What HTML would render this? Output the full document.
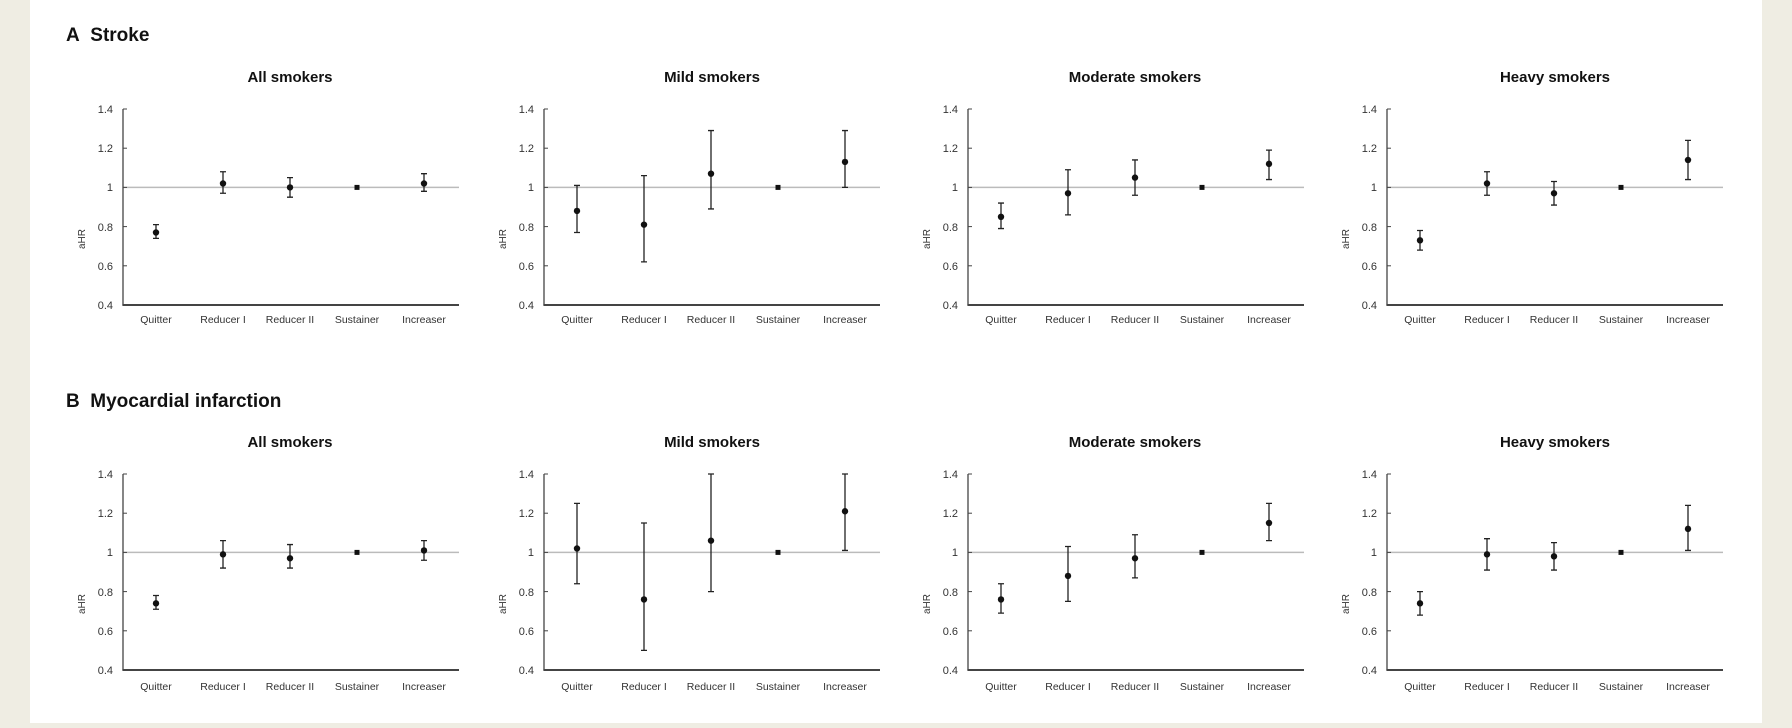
<!DOCTYPE html>
<html><head><meta charset="utf-8"><style>
html,body{margin:0;padding:0;background:#efede3;}
body{width:1792px;height:728px;overflow:hidden;position:relative;}
svg{position:absolute;left:0;top:0;}
text{font-family:"Liberation Sans",Arial,sans-serif;}
.h{font-size:19px;font-weight:bold;fill:#111;}
.t{font-size:15px;font-weight:bold;fill:#111;text-anchor:middle;}
.k{font-size:11px;fill:#333;text-anchor:end;}
.c{font-size:10.5px;fill:#333;text-anchor:middle;}
.a{font-size:10px;fill:#333;text-anchor:middle;}
</style></head><body>
<svg width="1792" height="728" viewBox="0 0 1792 728">
<rect x="30" y="0" width="1732" height="723" fill="#fff"/>
<text class="h" x="66" y="41">A&#160;&#160;Stroke</text>
<text class="h" x="66" y="407">B&#160;&#160;Myocardial infarction</text>

<text class="t" x="290" y="82">All smokers</text>
<text class="t" x="712" y="82">Mild smokers</text>
<text class="t" x="1135" y="82">Moderate smokers</text>
<text class="t" x="1555" y="82">Heavy smokers</text>
<text class="t" x="290" y="447">All smokers</text>
<text class="t" x="712" y="447">Mild smokers</text>
<text class="t" x="1135" y="447">Moderate smokers</text>
<text class="t" x="1555" y="447">Heavy smokers</text>

<g id="g1"></g>

<!-- tick labels & category labels per panel -->
<g transform="translate(123,109)"><text class="k" x="-10" y="4">1.4</text><text class="k" x="-10" y="43">1.2</text><text class="k" x="-10" y="82">1</text><text class="k" x="-10" y="122">0.8</text><text class="k" x="-10" y="161">0.6</text><text class="k" x="-10" y="200">0.4</text><text class="a" transform="translate(-38,130) rotate(-90)">aHR</text><text class="c" x="33" y="214">Quitter</text><text class="c" x="100" y="214">Reducer I</text><text class="c" x="167" y="214">Reducer II</text><text class="c" x="234" y="214">Sustainer</text><text class="c" x="301" y="214">Increaser</text></g>
<g transform="translate(544,109)"><text class="k" x="-10" y="4">1.4</text><text class="k" x="-10" y="43">1.2</text><text class="k" x="-10" y="82">1</text><text class="k" x="-10" y="122">0.8</text><text class="k" x="-10" y="161">0.6</text><text class="k" x="-10" y="200">0.4</text><text class="a" transform="translate(-38,130) rotate(-90)">aHR</text><text class="c" x="33" y="214">Quitter</text><text class="c" x="100" y="214">Reducer I</text><text class="c" x="167" y="214">Reducer II</text><text class="c" x="234" y="214">Sustainer</text><text class="c" x="301" y="214">Increaser</text></g>
<g transform="translate(968,109)"><text class="k" x="-10" y="4">1.4</text><text class="k" x="-10" y="43">1.2</text><text class="k" x="-10" y="82">1</text><text class="k" x="-10" y="122">0.8</text><text class="k" x="-10" y="161">0.6</text><text class="k" x="-10" y="200">0.4</text><text class="a" transform="translate(-38,130) rotate(-90)">aHR</text><text class="c" x="33" y="214">Quitter</text><text class="c" x="100" y="214">Reducer I</text><text class="c" x="167" y="214">Reducer II</text><text class="c" x="234" y="214">Sustainer</text><text class="c" x="301" y="214">Increaser</text></g>
<g transform="translate(1387,109)"><text class="k" x="-10" y="4">1.4</text><text class="k" x="-10" y="43">1.2</text><text class="k" x="-10" y="82">1</text><text class="k" x="-10" y="122">0.8</text><text class="k" x="-10" y="161">0.6</text><text class="k" x="-10" y="200">0.4</text><text class="a" transform="translate(-38,130) rotate(-90)">aHR</text><text class="c" x="33" y="214">Quitter</text><text class="c" x="100" y="214">Reducer I</text><text class="c" x="167" y="214">Reducer II</text><text class="c" x="234" y="214">Sustainer</text><text class="c" x="301" y="214">Increaser</text></g>
<g transform="translate(123,474)"><text class="k" x="-10" y="4">1.4</text><text class="k" x="-10" y="43">1.2</text><text class="k" x="-10" y="82">1</text><text class="k" x="-10" y="122">0.8</text><text class="k" x="-10" y="161">0.6</text><text class="k" x="-10" y="200">0.4</text><text class="a" transform="translate(-38,130) rotate(-90)">aHR</text><text class="c" x="33" y="216">Quitter</text><text class="c" x="100" y="216">Reducer I</text><text class="c" x="167" y="216">Reducer II</text><text class="c" x="234" y="216">Sustainer</text><text class="c" x="301" y="216">Increaser</text></g>
<g transform="translate(544,474)"><text class="k" x="-10" y="4">1.4</text><text class="k" x="-10" y="43">1.2</text><text class="k" x="-10" y="82">1</text><text class="k" x="-10" y="122">0.8</text><text class="k" x="-10" y="161">0.6</text><text class="k" x="-10" y="200">0.4</text><text class="a" transform="translate(-38,130) rotate(-90)">aHR</text><text class="c" x="33" y="216">Quitter</text><text class="c" x="100" y="216">Reducer I</text><text class="c" x="167" y="216">Reducer II</text><text class="c" x="234" y="216">Sustainer</text><text class="c" x="301" y="216">Increaser</text></g>
<g transform="translate(968,474)"><text class="k" x="-10" y="4">1.4</text><text class="k" x="-10" y="43">1.2</text><text class="k" x="-10" y="82">1</text><text class="k" x="-10" y="122">0.8</text><text class="k" x="-10" y="161">0.6</text><text class="k" x="-10" y="200">0.4</text><text class="a" transform="translate(-38,130) rotate(-90)">aHR</text><text class="c" x="33" y="216">Quitter</text><text class="c" x="100" y="216">Reducer I</text><text class="c" x="167" y="216">Reducer II</text><text class="c" x="234" y="216">Sustainer</text><text class="c" x="301" y="216">Increaser</text></g>
<g transform="translate(1387,474)"><text class="k" x="-10" y="4">1.4</text><text class="k" x="-10" y="43">1.2</text><text class="k" x="-10" y="82">1</text><text class="k" x="-10" y="122">0.8</text><text class="k" x="-10" y="161">0.6</text><text class="k" x="-10" y="200">0.4</text><text class="a" transform="translate(-38,130) rotate(-90)">aHR</text><text class="c" x="33" y="216">Quitter</text><text class="c" x="100" y="216">Reducer I</text><text class="c" x="167" y="216">Reducer II</text><text class="c" x="234" y="216">Sustainer</text><text class="c" x="301" y="216">Increaser</text></g>
</svg>
<script>
(function(){
var NS="http://www.w3.org/2000/svg";
var g=document.getElementById("g1");
var X=[123,544,968,1387],Y=[109,474];
var D=[
[[.77,.74,.81],[1.02,.97,1.08],[1.00,.95,1.05],[1,1,1],[1.02,.98,1.07]],
[[.88,.77,1.01],[.81,.62,1.06],[1.07,.89,1.29],[1,1,1],[1.13,1.0,1.29]],
[[.85,.79,.92],[.97,.86,1.09],[1.05,.96,1.14],[1,1,1],[1.12,1.04,1.19]],
[[.73,.68,.78],[1.02,.96,1.08],[.97,.91,1.03],[1,1,1],[1.14,1.04,1.24]],
[[.74,.71,.78],[.99,.92,1.06],[.97,.92,1.04],[1,1,1],[1.01,.96,1.06]],
[[1.02,.84,1.25],[.76,.50,1.15],[1.06,.80,1.40],[1,1,1],[1.21,1.01,1.40]],
[[.76,.69,.84],[.88,.75,1.03],[.97,.87,1.09],[1,1,1],[1.15,1.06,1.25]],
[[.74,.68,.80],[.99,.91,1.07],[.98,.91,1.05],[1,1,1],[1.12,1.01,1.24]]];
var s="";
for(var p=0;p<8;p++){
 var x0=X[p%4],y0=Y[Math.floor(p/4)];
 function yy(v){return y0+(1.4-v)*196;}
 s+='<line x1="'+x0+'" y1="'+yy(1)+'" x2="'+(x0+336)+'" y2="'+yy(1)+'" stroke="#bbb" stroke-width="1.5"/>';
 s+='<line x1="'+x0+'" y1="'+y0+'" x2="'+x0+'" y2="'+(y0+196)+'" stroke="#444" stroke-width="1.3"/>';
 s+='<line x1="'+(x0-0.6)+'" y1="'+(y0+196)+'" x2="'+(x0+336)+'" y2="'+(y0+196)+'" stroke="#444" stroke-width="2"/>';
 for(var t=0;t<6;t++){var ty=y0+t*39.2;s+='<line x1="'+x0+'" y1="'+ty+'" x2="'+(x0+4)+'" y2="'+ty+'" stroke="#444" stroke-width="1"/>';}
 for(var i=0;i<5;i++){
  var d=D[p][i],cx=x0+33+67*i;
  if(i==3){s+='<rect x="'+(cx-2.5)+'" y="'+(yy(1)-2.5)+'" width="5" height="5" fill="#111"/>';continue;}
  var a=yy(d[2]),b=yy(d[1]);
  s+='<path d="M'+cx+' '+a+'V'+b+'M'+(cx-3)+' '+a+'h6M'+(cx-3)+' '+b+'h6" stroke="#222" stroke-width="1.3" fill="none"/>';
  s+='<circle cx="'+cx+'" cy="'+yy(d[0])+'" r="3.2" fill="#111"/>';
 }
}
g.innerHTML=s;
})();
</script>
</body></html>
